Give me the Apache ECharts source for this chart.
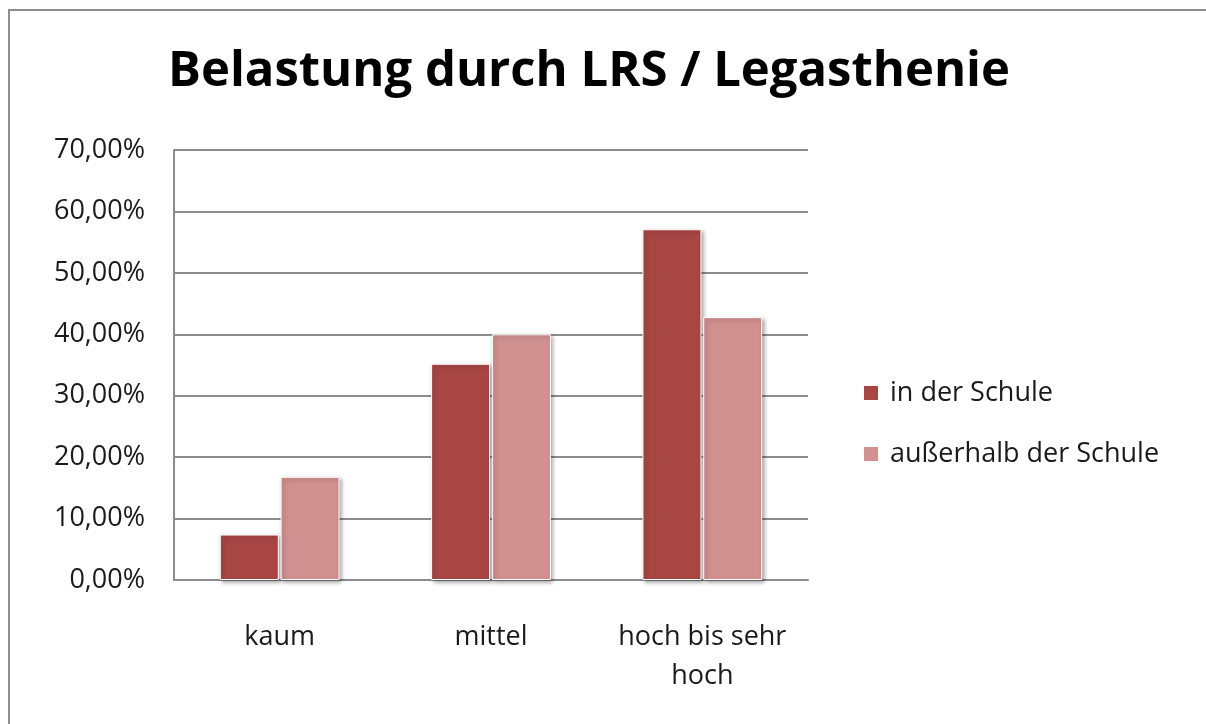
<!DOCTYPE html>
<html>
<head>
<meta charset="utf-8">
<script src="https://cdn.jsdelivr.net/npm/echarts@6/dist/echarts.min.js"></script>
<style>
  html, body { margin: 0; padding: 0; background: #fff; }
  #chart { width: 1206px; height: 724px; }
</style>
</head>
<body>
<div id="chart"></div>
<script>
const categories = ['kaum', 'mittel', 'hoch bis sehr hoch']
const seriesNames = ['in der Schule', 'außerhalb der Schule']
const inSchool = [7.4, 35.2, 57.1]
const outSchool = [16.8, 40.0, 42.8]

const colors = ['#a84644', '#d09190']
const font = '"Open Sans", Lato, sans-serif'

const chart = echarts.init(document.getElementById('chart'))

function barStyle(color) {
  return {
    color,
    borderColor: '#fff',
    borderWidth: 1,
    shadowBlur: 4,
    shadowColor: 'rgba(0,0,0,0.35)',
    shadowOffsetX: 2,
    shadowOffsetY: 2,
  }
}

chart.setOption({
  animation: false,
  backgroundColor: '#fff',
  textStyle: { fontFamily: font },
  graphic: [
    {
      type: 'rect',
      shape: { x: 9, y: 10, width: 1300, height: 900 },
      style: { fill: 'none', stroke: '#8e8e8e', lineWidth: 2 },
      silent: true,
    },
  ],
  title: {
    text: 'Belastung durch LRS / Legasthenie',
    left: 584,
    textAlign: 'center',
    top: 43,
    textStyle: { fontFamily: font, fontWeight: 'bold', fontSize: 49, color: '#000' },
  },
  legend: {
    orient: 'vertical',
    left: 857,
    top: 373,
    itemWidth: 16,
    itemHeight: 16,
    itemGap: 31,
    icon: 'rect',
    data: seriesNames,
    textStyle: { fontFamily: font, fontSize: 27, color: '#1a1a1a', lineHeight: 30, padding: [0, 0, 0, 6] },
  },
  grid: { left: 174, top: 150, right: 398, bottom: 144 },
  xAxis: {
    type: 'category',
    data: categories,
    axisLine: { lineStyle: { color: '#8c8c8c', width: 2 } },
    axisTick: { show: false },
    axisLabel: {
      margin: 38,
      fontSize: 27,
      lineHeight: 39,
      color: '#1a1a1a',
      interval: 0,
      formatter: v => v.replace('sehr ', 'sehr\n'),
    },
  },
  yAxis: {
    type: 'value',
    min: 0,
    max: 70,
    interval: 10,
    axisLine: { show: true, lineStyle: { color: '#8c8c8c', width: 2 } },
    axisTick: { show: false },
    splitLine: { lineStyle: { color: '#8c8c8c', width: 2 } },
    axisLabel: {
      margin: 29,
      fontSize: 27,
      color: '#1a1a1a',
      formatter: v => `${v.toFixed(2).replace('.', ',')}%`,
    },
  },
  series: [
    {
      name: seriesNames[0],
      type: 'bar',
      data: inSchool,
      barWidth: 59,
      barGap: '3%',
      itemStyle: barStyle(colors[0]),
    },
    {
      name: seriesNames[1],
      type: 'bar',
      data: outSchool,
      barWidth: 59,
      barGap: '3%',
      itemStyle: barStyle(colors[1]),
    },
  ],
})
</script>
</body>
</html>
